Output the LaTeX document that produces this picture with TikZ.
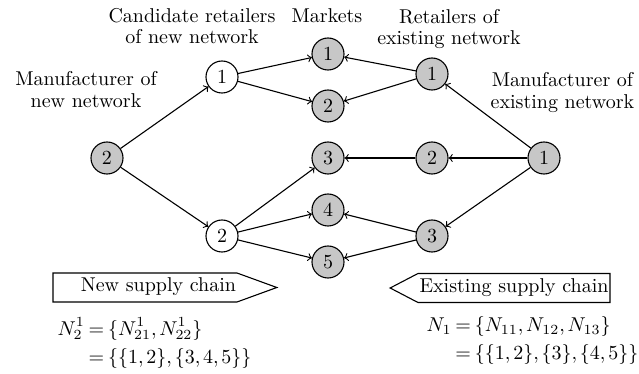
\documentclass[tikz,border=0pt]{standalone}
\usepackage{amsmath}
\usepackage{tikz}
\usetikzlibrary{arrows,shapes.symbols}

\setlength{\jot}{2pt}

\begin{document}
\begin{tikzpicture}[x=0.5pt,y=-0.5pt,node distance=26pt,>=to,line width=0.55pt,
  market/.style={circle,draw,fill=black!22,minimum size=16pt,inner sep=0pt},
  cand/.style={circle,draw,fill=white,minimum size=16pt,inner sep=0pt},
  lbl/.style={align=center,font=\fontsize{10}{10.8}\selectfont},
  chain/.style={signal,draw,text height=7.3pt,text depth=2.8pt,inner ysep=2.2pt,inner xsep=0.5pt},
  sets/.style={anchor=west,inner sep=0pt,
    execute at begin node={\thickmuskip=3.5mu\thinmuskip=2.5mu}}]
\useasboundingbox (0,0) rectangle (639,374);

\node[market] (m3) at (328,158) {3};
\node[market] (m2) [above of = m3] {2};
\node[market] (m1) [above of = m2] {1};
\node[market] (m4) [below of = m3] {4};
\node[market] (m5) [below of = m4] {5};

\node[market] (n2) at (107,158) {2};
\node[cand] (c1) at (222,77) {1};
\node[cand] (c2) at (222,236) {2};

\node[market] (r2) [right of = m3, node distance = 52pt] {2};
\node[market] (r1) at (432,74) {1};
\node[market] (r3) at (432,236) {3};
\node[market] (e1) [right of = r2, node distance = 56pt] {1};

\path[->] (n2) edge (c1)
               edge (c2)
          (c1) edge (m1)
               edge (m2)
          (c2) edge (m3)
               edge (m4)
               edge (m5)
          (r1) edge (m1)
               edge (m2)
          (r2) edge (m3)
          (r3) edge (m4)
               edge (m5)
          (e1) edge (r1)
               edge (r2)
               edge (r3);

\node[lbl] (candlbl) at (192,26) {Candidate retailers\\of new network};
\node[lbl,anchor=base] (mktlbl) at (327,22.7) {Markets};
\node[lbl] (retlbl) at (449,29) {Retailers of\\existing network};
\node[lbl] (newman) at (86,89.5) {Manufacturer of\\new network};
\node[lbl] (oldman) at (562.5,92.3) {Manufacturer of\\existing network};

\node[chain,signal to=east,signal pointer angle=40,text width=91pt,align=right] (newsc) at (145,287.5) {New supply chain};
\node[chain,signal to=west,signal pointer angle=55,text width=95pt,align=center] (oldsc) at (514,288) {Existing supply chain};

\node[sets] (newset) at (57,344)
  {$\begin{aligned} N_2^1 &= \{N_{21}^1, N_{22}^1\}\\ &= \{\{1,2\},\{3,4,5\}\}\end{aligned}$};
\node[sets] (oldset) at (426,341)
  {$\begin{aligned} N_1 &= \{N_{11}, N_{12}, N_{13}\}\\ &= \{\{1,2\},\{3\},\{4,5\}\}\end{aligned}$};
\end{tikzpicture}
\end{document}
